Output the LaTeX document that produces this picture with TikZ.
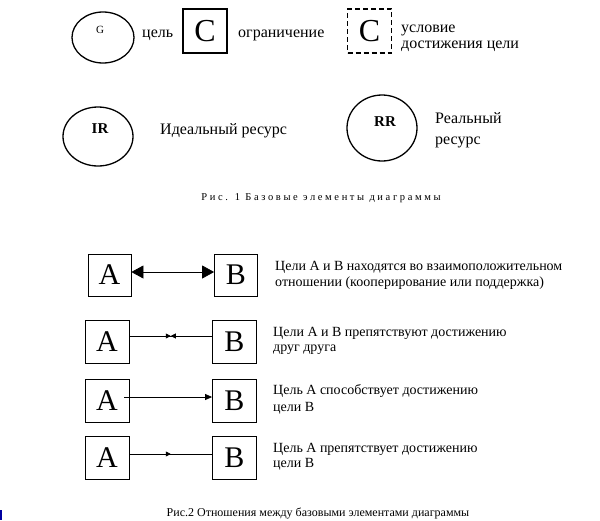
\documentclass[tikz,border=0pt]{standalone}
\usepackage{fontspec}
\setmainfont{Liberation Serif}
\newfontfamily\capfont[LetterSpace=25]{Liberation Serif}
\usetikzlibrary{arrows.meta,decorations.markings,shapes.geometric}
\begin{document}
\begin{tikzpicture}[x=1pt,y=-1pt,
  ell/.style={draw, ellipse, line width=1.3pt, inner sep=0},
  bigbox/.style={draw, line width=0.8pt, inner sep=0, minimum width=44pt, minimum height=43pt, font=\fontsize{30}{30}\selectfont},
  csq/.style={draw, line width=1.8pt, inner sep=0, minimum width=44pt, minimum height=44pt, font=\fontsize{32}{32}\selectfont},
  lbl/.style={anchor=base west, inner sep=0, font=\fontsize{16}{16}\selectfont},
  txt/.style={anchor=base west, inner sep=0, font=\fontsize{14}{16}\selectfont},
  conn/.style={line width=0.7pt},
  midmark/.style={postaction={decorate}, decoration={markings, mark=at position 0.5 with {\arrow{Triangle[length=5pt,width=5pt]}}}},
  bowtie/.style={postaction={decorate}, decoration={markings, mark=at position 0.5 with {\arrow{Triangle[length=5pt,width=5pt]}\arrowreversed{Triangle[length=5pt,width=5pt]}}}}
]
\useasboundingbox (0,0) rectangle (600,520);

% legend top row
\node[ell, minimum width=62pt, minimum height=51pt] (G) at (103,37.5) {};
\node[inner sep=0, font=\fontsize{11}{11}\selectfont] (Gl) at (100,30) {G};
\node[lbl] (tg) at (142,37) {цель};
\node[csq] (C1) at (205,31) {C};
\node[lbl] (tc) at (238,37) {ограничение};
\node[csq, dashed, dash pattern=on 5pt off 3pt] (C2) at (369.5,31) {C};
\node[lbl] (tcu1) at (401,32) {условие};
\node[lbl] (tcu2) at (401,48) {достижения цели};

% resources
\node[ell, minimum width=70pt, minimum height=59pt] (IR) at (98,136.5) {};
\node[inner sep=0, font=\bfseries\fontsize{15}{15}\selectfont] (IRl) at (100,129) {IR};
\node[lbl] (tir) at (160,134) {Идеальный ресурс};
\node[ell, minimum width=70pt, minimum height=66pt] (RR) at (382,128) {};
\node[inner sep=0, font=\bfseries\fontsize{15}{15}\selectfont] (RRl) at (385,122) {RR};
\node[lbl] (trr1) at (435,123) {Реальный};
\node[lbl] (trr2) at (435,144) {ресурс};

\node[inner sep=0, font=\capfont\fontsize{10.5}{10.5}\selectfont] (cap1) at (321,198) {Рис. 1 Базовые элементы диаграммы};

% relations
\node[bigbox, minimum width=43pt, minimum height=42pt] (A1) at (109.5,275) {A};
\node[bigbox, minimum width=43pt, minimum height=42pt] (B1) at (236,275) {B};
\draw[conn, {Triangle[length=12pt,width=13pt]}-{Triangle[length=12pt,width=13pt]}] ([yshift=3pt]A1.east) -- ([yshift=3pt]B1.west);
\node[txt] (t11) at (275,270.5) {Цели А и В находятся во взаимоположительном};
\node[txt] (t12) at (275,286.5) {отношении (кооперирование или поддержка)};

\node[bigbox] (A2) at (107,341.5) {A};
\node[bigbox] (B2) at (234.5,341.5) {B};
\draw[conn, bowtie] ([yshift=5.5pt]A2.east) -- ([yshift=5.5pt]B2.west);
\node[txt] (t21) at (273,336.5) {Цели А и В препятствуют достижению};
\node[txt] (t22) at (273,351.5) {друг друга};

\node[bigbox] (A3) at (107,400.5) {A};
\node[bigbox] (B3) at (234.5,400.5) {B};
\draw[conn, -{Triangle[length=7pt,width=6pt]}] ([xshift=-5pt,yshift=3.5pt]A3.east) -- ([yshift=3.5pt]B3.west);
\node[txt] (t31) at (273,394.5) {Цель А способствует достижению};
\node[txt] (t32) at (273,411.5) {цели В};

\node[bigbox] (A4) at (107,457.5) {A};
\node[bigbox] (B4) at (234.5,457.5) {B};
\draw[conn, midmark] ([yshift=3.5pt]A4.east) -- ([yshift=3.5pt]B4.west);
\node[txt] (t41) at (273,452.5) {Цель А препятствует достижению};
\node[txt] (t42) at (273,467.5) {цели В};

\node[inner sep=0, font=\fontsize{12}{12}\selectfont] (cap2) at (318,513) {Рис.2 Отношения между базовыми элементами диаграммы};

% small blue mark at the lower left edge
\fill[fill={rgb,255:red,0;green,0;blue,160}] (0,510) rectangle (2,520);
\end{tikzpicture}
\end{document}
